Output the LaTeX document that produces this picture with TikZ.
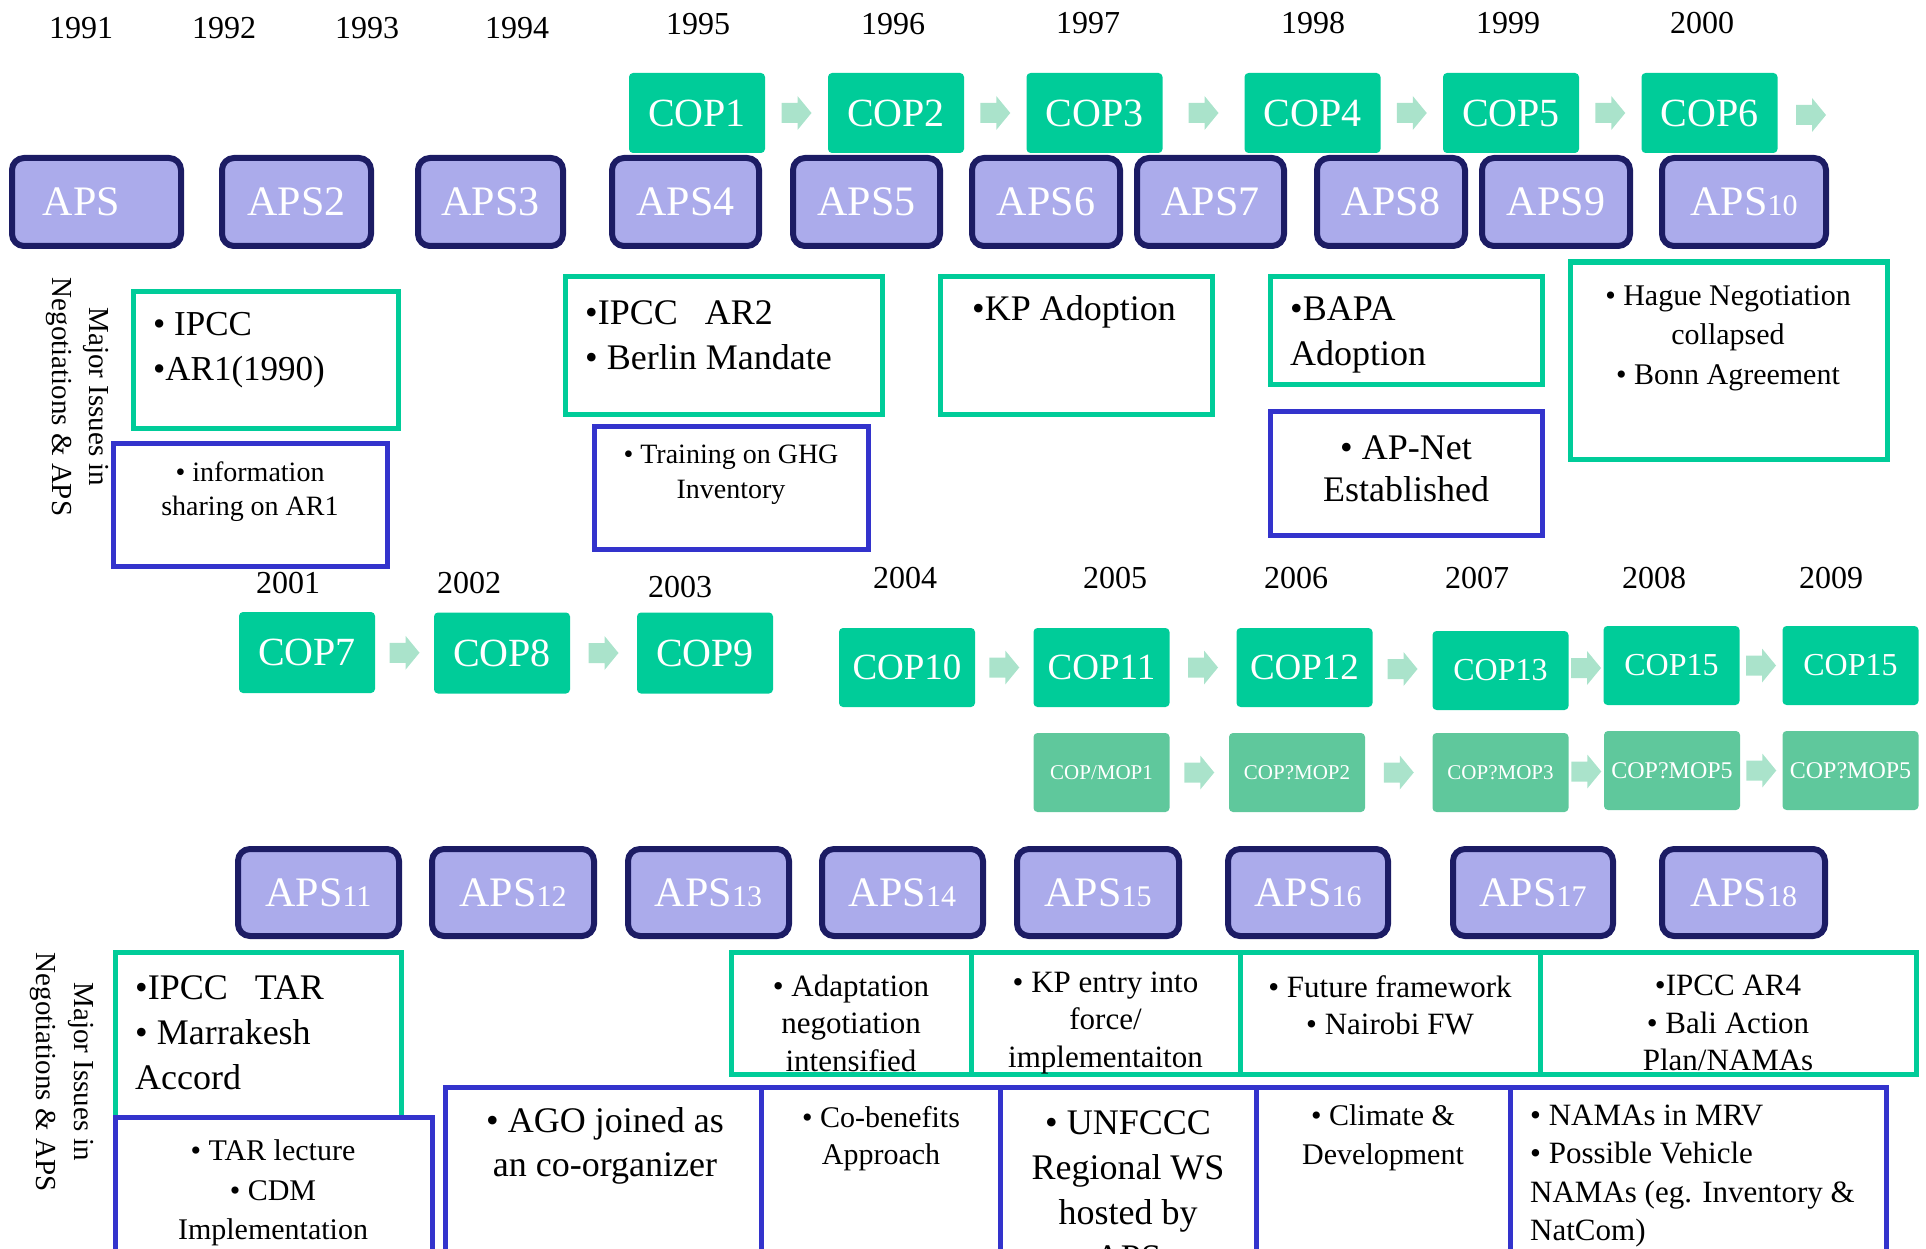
\documentclass[tikz,border=0pt]{standalone}
\usepackage{fontspec}
\setmainfont{Liberation Serif}
\usetikzlibrary{calc}
\definecolor{copc}{HTML}{00CC99}
\definecolor{mopc}{HTML}{5FC89C}
\definecolor{arrowc}{HTML}{AAE3CB}
\definecolor{apsf}{HTML}{ABABEB}
\definecolor{apsd}{HTML}{1C1C64}
\definecolor{grnb}{HTML}{00CC99}
\definecolor{blub}{HTML}{3333CC}
\newcommand\apsn[1]{APS{\fontsize{30}{30}\selectfont #1}}
\newcommand\barrowat[1]{\fill[arrowc] ($(#1)+(-15,-10)$) -- ++(16,0) -- ++(0,-7) -- ++(14,17) -- ++(-14,17) -- ++(0,-7) -- ++(-16,0) -- cycle;}
\begin{document}
\begin{tikzpicture}[x=1pt,y=-1pt,
  copbox/.style={fill=copc, rounded corners=4pt, minimum width=136pt, minimum height=80pt, inner sep=0pt, text=white, font=\fontsize{40}{48}\selectfont},
  mopbox/.style={fill=mopc, rounded corners=4pt, minimum width=136pt, minimum height=79pt, inner sep=0pt, text=white, font=\fontsize{21}{25}\selectfont},
  apsbox/.style={fill=apsf, draw=apsd, line width=6pt, rounded corners=12pt, minimum height=88pt, inner sep=0pt, text=white, font=\fontsize{42}{50}\selectfont},
  gbox/.style={draw=grnb, line width=5pt, inner sep=0pt},
  bbox/.style={draw=blub, line width=5pt, inner sep=0pt},
  yr/.style={inner sep=0pt, font=\fontsize{32}{36}\selectfont},
  txt/.style={inner sep=0pt, text=black},
  sidelab/.style={inner sep=0pt, rotate=-90, align=center, font=\fontsize{29}{37}\selectfont}
]
\clip (0,0) rectangle (1926,1249);
\useasboundingbox (0,0) rectangle (1926,1249);

% ---------- years, first period
\node[yr] (y1991) at (81,28) {1991};
\node[yr] (y1992) at (224,28) {1992};
\node[yr] (y1993) at (367,28) {1993};
\node[yr] (y1994) at (517,28) {1994};
\node[yr] (y1995) at (698,24) {1995};
\node[yr] (y1996) at (893,24) {1996};
\node[yr] (y1997) at (1088,23) {1997};
\node[yr] (y1998) at (1313,23) {1998};
\node[yr] (y1999) at (1508,23) {1999};
\node[yr] (y2000) at (1702,23) {2000};

% ---------- COP row 1
\node[copbox] (cop1) at (697,113) {COP1};
\node[copbox] (cop2) at (896,113) {COP2};
\node[copbox] (cop3) at (1094.5,113) {COP3};
\node[copbox] (cop4) at (1312.5,113) {COP4};
\node[copbox] (cop5) at (1511,113) {COP5};
\node[copbox] (cop6) at (1709.5,113) {COP6};
\coordinate (a12) at ($(cop1.east)!0.5!(cop2.west)$);
\coordinate (a23) at ($(cop2.east)!0.5!(cop3.west)$);
\coordinate (a34) at ($(cop3.east)!0.5!(cop4.west)$);
\coordinate (a45) at ($(cop4.east)!0.5!(cop5.west)$);
\coordinate (a56) at ($(cop5.east)!0.5!(cop6.west)$);
\coordinate (a6x) at (1811,115);
\barrowat{a12}\barrowat{a23}\barrowat{a34}\barrowat{a45}\barrowat{a56}\barrowat{a6x}

% ---------- APS row 1
\node[apsbox, minimum width=169pt] (aps1) at (96.5,202) {APS\hspace*{30pt}};
\node[apsbox, minimum width=149pt] (aps2) at (296.5,202) {APS2};
\node[apsbox, minimum width=145pt] (aps3) at (490.5,202) {APS3};
\node[apsbox, minimum width=147pt] (aps4) at (685.5,202) {APS4};
\node[apsbox, minimum width=147pt] (aps5) at (866.5,202) {APS5};
\node[apsbox, minimum width=148pt] (aps6) at (1046,202) {APS6};
\node[apsbox, minimum width=147pt] (aps7) at (1210.5,202) {APS7};
\node[apsbox, minimum width=148pt] (aps8) at (1391,202) {APS8};
\node[apsbox, minimum width=148pt] (aps9) at (1556,202) {APS9};
\node[apsbox, minimum width=164pt] (aps10) at (1744,202) {\apsn{10}};

% ---------- side labels
\node[sidelab] (side1) at (77,397) {Major Issues in\\Negotiations \& APS};
\node[sidelab, font=\fontsize{29}{38}\selectfont] (side2) at (62,1072) {Major Issues in\\Negotiations \& APS};

% ---------- issue boxes, first period
\node[gbox, minimum width=265pt, minimum height=137pt] (gA) at (265.5,359.5) {};
\node[bbox, minimum width=274pt, minimum height=123pt] (bA) at (250,504.5) {};
\node[gbox, minimum width=317pt, minimum height=138pt] (gB) at (723.5,345) {};
\node[bbox, minimum width=274pt, minimum height=123pt] (bB) at (731,487.5) {};
\node[gbox, minimum width=272pt, minimum height=138pt] (gC) at (1076,345) {};
\node[gbox, minimum width=272pt, minimum height=108pt] (gD) at (1406,330) {};
\node[bbox, minimum width=272pt, minimum height=124pt] (bD) at (1406,473) {};
\node[gbox, minimum width=317pt, minimum height=197pt] (gE) at (1728.5,360.5) {};

\node[txt, anchor=west, align=left, font=\fontsize{35}{45}\selectfont] (tA) at (153,350) {• IPCC\\•AR1(1990)};
\node[txt, align=center, font=\fontsize{28}{34}\selectfont] (tAb) at (250,492) {• information\\sharing on AR1};
\node[txt, anchor=west, align=left, font=\fontsize{36}{45}\selectfont] (tB) at (585,335) {•IPCC\hspace{0.75em}AR2\\• Berlin Mandate};
\node[txt, align=center, font=\fontsize{28}{35}\selectfont] (tBb) at (731,475) {• Training on GHG\\Inventory};
\node[txt, anchor=west, font=\fontsize{36}{45}\selectfont] (tC) at (972,312) {•KP Adoption};
\node[txt, anchor=west, align=left, font=\fontsize{36}{45}\selectfont] (tD) at (1290,335) {•BAPA\\Adoption};
\node[txt, align=center, font=\fontsize{36}{42}\selectfont] (tDb) at (1406,469) {• AP-Net\\Established};
\node[txt, align=center, font=\fontsize{30}{39.5}\selectfont] (tE) at (1728,338) {• Hague Negotiation\\collapsed\\• Bonn Agreement};

% ---------- years, second period
\node[yr] (y2001) at (288,583) {2001};
\node[yr] (y2002) at (469,583) {2002};
\node[yr] (y2003) at (680,587) {2003};
\node[yr] (y2004) at (905,578) {2004};
\node[yr] (y2005) at (1115,578) {2005};
\node[yr] (y2006) at (1296,578) {2006};
\node[yr] (y2007) at (1477,578) {2007};
\node[yr] (y2008) at (1654,578) {2008};
\node[yr] (y2009) at (1831,578) {2009};

% ---------- COP row 2
\node[copbox, minimum height=81pt] (cop7) at (307,652.5) {COP7};
\node[copbox, minimum height=81pt] (cop8) at (502,653) {COP8};
\node[copbox, minimum height=81pt] (cop9) at (705,653) {COP9};
\node[copbox, minimum height=79pt, font=\fontsize{37}{44}\selectfont] (cop10) at (907,667.5) {COP10};
\node[copbox, minimum height=79pt, font=\fontsize{37}{44}\selectfont] (cop11) at (1101.5,667.5) {COP11};
\node[copbox, minimum height=79pt, font=\fontsize{37}{44}\selectfont] (cop12) at (1304.5,667.5) {COP12};
\node[copbox, minimum height=79pt, font=\fontsize{32}{38}\selectfont] (cop13) at (1500.5,670.5) {COP13};
\node[copbox, minimum height=79pt, font=\fontsize{32}{38}\selectfont] (cop15a) at (1671.5,665.5) {COP15};
\node[copbox, minimum height=79pt, font=\fontsize{32}{38}\selectfont] (cop15b) at (1850.5,665.5) {COP15};
\coordinate (a78) at ($(cop7.east)!0.5!(cop8.west)$);
\coordinate (a89) at ($(cop8.east)!0.5!(cop9.west)$);
\coordinate (a1011) at ($(cop10.east)!0.5!(cop11.west)$);
\coordinate (a1112) at ($(cop11.east)!0.5!(cop12.west)$);
\coordinate (a1213) at ($(cop12.east)!0.5!(cop13.west)$);
\coordinate (a1315) at ($(cop13.east)!0.5!(cop15a.west)$);
\coordinate (a1515) at ($(cop15a.east)!0.5!(cop15b.west)$);
\barrowat{a78}\barrowat{a89}\barrowat{a1011}\barrowat{a1112}\barrowat{a1213}\barrowat{a1315}\barrowat{a1515}

% ---------- COP/MOP row
\node[mopbox] (mop1) at (1101.5,772.5) {COP/MOP1};
\node[mopbox] (mop2) at (1297,772.5) {COP?MOP2};
\node[mopbox] (mop3) at (1500.5,772.5) {COP?MOP3};
\node[mopbox, font=\fontsize{24}{28}\selectfont] (mop5a) at (1672,770.5) {COP?MOP5};
\node[mopbox, font=\fontsize{24}{28}\selectfont] (mop5b) at (1850.5,770.5) {COP?MOP5};
\coordinate (m12) at ($(mop1.east)!0.5!(mop2.west)$);
\coordinate (m23) at ($(mop2.east)!0.5!(mop3.west)$);
\coordinate (m35) at ($(mop3.east)!0.5!(mop5a.west)$);
\coordinate (m55) at ($(mop5a.east)!0.5!(mop5b.west)$);
\barrowat{m12}\barrowat{m23}\barrowat{m35}\barrowat{m55}

% ---------- APS row 2
\node[apsbox, minimum width=161pt, minimum height=87pt] (aps11) at (318.5,892.5) {\apsn{11}};
\node[apsbox, minimum width=162pt, minimum height=87pt] (aps12) at (513,892.5) {\apsn{12}};
\node[apsbox, minimum width=161pt, minimum height=87pt] (aps13) at (708.5,892.5) {\apsn{13}};
\node[apsbox, minimum width=161pt, minimum height=87pt] (aps14) at (902.5,892.5) {\apsn{14}};
\node[apsbox, minimum width=162pt, minimum height=87pt] (aps15) at (1098,892.5) {\apsn{15}};
\node[apsbox, minimum width=160pt, minimum height=87pt] (aps16) at (1308,892.5) {\apsn{16}};
\node[apsbox, minimum width=160pt, minimum height=87pt] (aps17) at (1533,892.5) {\apsn{17}};
\node[apsbox, minimum width=163pt, minimum height=87pt] (aps18) at (1743.5,892.5) {\apsn{18}};

% ---------- issue boxes, second period
\node[gbox, minimum width=286pt, minimum height=165pt] (gF) at (258,1034.5) {};
\node[gbox, minimum width=240pt, minimum height=122pt] (gG) at (851,1013) {};
\node[gbox, minimum width=269pt, minimum height=122pt] (gH) at (1105.5,1013) {};
\node[gbox, minimum width=300pt, minimum height=122pt] (gI) at (1390,1013) {};
\node[gbox, minimum width=376pt, minimum height=122pt] (gJ) at (1728,1013) {};
\node[bbox, minimum width=317pt, minimum height=183pt] (bF) at (273.5,1208.5) {};
\node[bbox, minimum width=316pt, minimum height=213pt] (bG) at (603,1193.5) {};
\node[bbox, minimum width=239pt, minimum height=213pt] (bH) at (880.5,1193.5) {};
\node[bbox, minimum width=256pt, minimum height=213pt] (bI) at (1128,1193.5) {};
\node[bbox, minimum width=254pt, minimum height=213pt] (bJ) at (1383,1193.5) {};
\node[bbox, minimum width=376pt, minimum height=213pt] (bK) at (1698,1193.5) {};

\node[txt, anchor=west, align=left, font=\fontsize{36}{45}\selectfont] (tF) at (135,1033) {•IPCC\hspace{0.75em}TAR\\• Marrakesh\\Accord};
\node[txt, align=center, font=\fontsize{31}{37.5}\selectfont] (tG) at (851,1023) {• Adaptation\\negotiation\\intensified};
\node[txt, align=center, font=\fontsize{31}{37.5}\selectfont] (tH) at (1105.5,1023) {• KP entry into\\force/\\implementaiton};
\node[txt, align=center, font=\fontsize{31}{37}\selectfont] (tI) at (1390,1005) {• Future framework\\• Nairobi FW};
\node[txt, align=center, font=\fontsize{31}{37.5}\selectfont] (tJ) at (1728,1023) {•IPCC AR4\\• Bali Action\\Plan/NAMAs};
\node[txt, align=center, font=\fontsize{30}{39.5}\selectfont] (tFb) at (273,1193) {• TAR lecture\\• CDM\\Implementation};
\node[txt, align=center, font=\fontsize{36}{44}\selectfont] (tGb) at (605,1146) {• AGO joined as\\an co-organizer};
\node[txt, align=center, font=\fontsize{30}{37}\selectfont] (tHb) at (881,1139) {• Co-benefits\\Approach};
\node[txt, align=center, font=\fontsize{36}{45}\selectfont] (tIb) at (1128,1190) {• UNFCCC\\Regional WS\\hosted by\\APS};
\node[txt, align=center, font=\fontsize{30}{39}\selectfont] (tJb) at (1383,1138) {• Climate \&\\Development};
\node[txt, anchor=west, align=left, font=\fontsize{31}{38.5}\selectfont] (tKb) at (1530,1176) {• NAMAs in MRV\\• Possible Vehicle\\NAMAs (eg. Inventory \&\\NatCom)};
\end{tikzpicture}
\end{document}
